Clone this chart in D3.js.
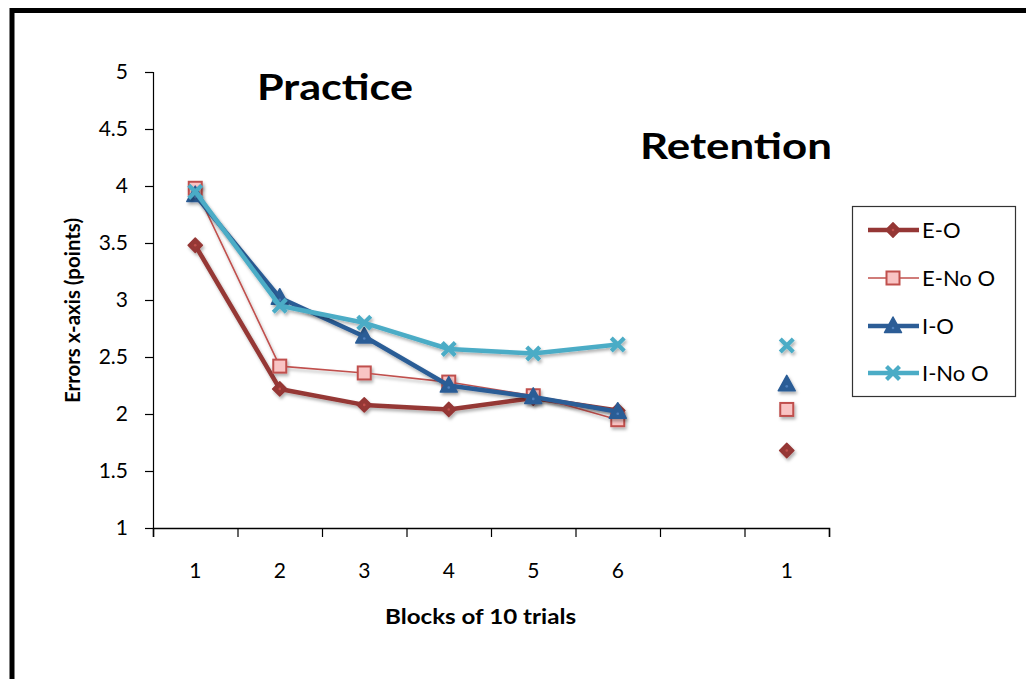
<!DOCTYPE html>
<html>
<head>
<meta charset="utf-8">
<script src="https://cdn.jsdelivr.net/npm/d3@7"></script>
<style>
  html, body { margin: 0; padding: 0; background: #fff; }
  svg { display: block; }
  text { font-family: Lato, "Open Sans", sans-serif; fill: #000; }
</style>
</head>
<body>
<script>
// ---- data ----
const categories = ["1", "2", "3", "4", "5", "6", "", "1"];
const eO   = [3.48, 2.22, 2.08, 2.04, 2.14, 2.03, null, 1.68];
const eNoO = [3.98, 2.42, 2.36, 2.28, 2.16, 1.95, null, 2.04];
const iO   = [3.92, 3.02, 2.68, 2.25, 2.15, 2.02, null, 2.26];
const iNoO = [3.95, 2.95, 2.80, 2.57, 2.53, 2.61, null, 2.60];
const seriesNames = ["E-O", "E-No O", "I-O", "I-No O"];
const yTicks = [1, 1.5, 2, 2.5, 3, 3.5, 4, 4.5, 5];

(function () {
const W = 1026, H = 679;
const svg = d3.select("body").append("svg").attr("width", W).attr("height", H);

const defs = svg.append("defs");
const f = defs.append("filter").attr("id", "sh").attr("x", "-30%").attr("y", "-30%").attr("width", "160%").attr("height", "160%");
f.append("feDropShadow").attr("dx", 1.5).attr("dy", 2.5).attr("stdDeviation", 1.5)
  .attr("flood-color", "#000").attr("flood-opacity", 0.3);

// frame
svg.append("rect").attr("x", 12).attr("y", 10.5).attr("width", W + 20).attr("height", H + 20)
  .attr("fill", "none").attr("stroke", "#000").attr("stroke-width", 5);

const pLeft = 153, pRight = 829, pTop = 72, pBottom = 528;
const x = d3.scaleBand().domain(d3.range(categories.length)).range([pLeft, pRight]);
const xEdge = d3.scaleLinear().domain([0, categories.length]).range([pLeft, pRight]);
const y = d3.scaleLinear().domain([1, 5]).range([pBottom, pTop]);

// y axis
const yAxis = svg.append("g").attr("transform", `translate(${pLeft},0)`)
  .call(d3.axisLeft(y).tickValues(yTicks).tickSize(8).tickPadding(17).tickFormat(d => String(d)));
yAxis.select(".domain").attr("stroke", "#000").attr("stroke-width", 1.2);
yAxis.selectAll(".tick line").attr("stroke", "#000").attr("stroke-width", 1.2);
yAxis.selectAll("text").style("font-size", "21px").attr("fill", "#000");

// x axis tick marks at band edges
const xTickAxis = svg.append("g").attr("transform", `translate(0,${pBottom})`)
  .call(d3.axisBottom(xEdge).tickValues(d3.range(categories.length + 1)).tickSize(9).tickFormat(""));
xTickAxis.select(".domain").attr("stroke", "#000").attr("stroke-width", 1.5);
xTickAxis.selectAll(".tick line").attr("stroke", "#000").attr("stroke-width", 1.2);

// x labels
const xLab = svg.append("g").attr("transform", `translate(0,${pBottom})`)
  .call(d3.axisBottom(x).tickSize(0).tickPadding(35).tickFormat(i => categories[i]));
xLab.select(".domain").remove();
xLab.selectAll("text").style("font-size", "21px").attr("fill", "#000");

// axis titles
svg.append("text").attr("x", 385).attr("y", 624).attr("textLength", 191).attr("lengthAdjust", "spacingAndGlyphs")
  .style("font-size", "21px").style("font-weight", "bold").text("Blocks of 10 trials");
svg.append("text").attr("transform", "translate(80,403) rotate(-90)").attr("textLength", 185).attr("lengthAdjust", "spacingAndGlyphs")
  .style("font-size", "20px").style("font-weight", "bold").text("Errors x-axis (points)");

// section titles
svg.append("text").attr("x", 257).attr("y", 100).attr("textLength", 156).attr("lengthAdjust", "spacingAndGlyphs")
  .style("font-size", "37px").style("font-weight", "bold").text("Practice");
svg.append("text").attr("x", 640).attr("y", 159).attr("textLength", 192).attr("lengthAdjust", "spacingAndGlyphs")
  .style("font-size", "37px").style("font-weight", "bold").text("Retention");

// series styles
const styles = [
  { vals: eO,   color: "#953735", width: 4.5, marker: "diamond", fill: "#953735" },
  { vals: eNoO, color: "#C0504D", width: 1.6, marker: "square",  fill: "#F9C4C4" },
  { vals: iO,   color: "#2C5D96", width: 4.5, marker: "triangle", fill: "#2C5D96" },
  { vals: iNoO, color: "#4BACC6", width: 4.5, marker: "x",       fill: "#4BACC6" }
];

function drawMarker(g, type, s) {
  if (type === "diamond") {
    g.append("path").attr("d", d3.symbol(d3.symbolDiamond2, 130)())
      .attr("fill", s.fill).attr("stroke", s.color).attr("stroke-width", 1.5).attr("stroke-linejoin", "round");
    g.append("circle").attr("r", 1.3).attr("fill", "#c0504d");
  } else if (type === "square") {
    g.append("rect").attr("x", -6.5).attr("y", -6.5).attr("width", 13).attr("height", 13)
      .attr("fill", s.fill).attr("stroke", s.color).attr("stroke-width", 2);
  } else if (type === "triangle") {
    g.append("path").attr("d", "M0,-9 L8.5,6.5 L-8.5,6.5 Z")
      .attr("fill", s.fill).attr("stroke", s.color).attr("stroke-width", 1.5).attr("stroke-linejoin", "round");
    g.append("circle").attr("cy", 2).attr("r", 1.3).attr("fill", "#4f81bd");
  } else if (type === "x") {
    g.append("path").attr("d", "M-6.5,-6.5 L6.5,6.5 M6.5,-6.5 L-6.5,6.5")
      .attr("stroke", s.color).attr("stroke-width", 4.2).attr("fill", "none");
  }
}

const line = d3.line()
  .defined(d => d != null)
  .x((d, i) => x(i) + x.bandwidth() / 2)
  .y(d => y(d));

styles.forEach(s => {
  const g = svg.append("g").attr("filter", "url(#sh)");
  g.append("path").datum(s.vals).attr("d", line)
    .attr("fill", "none").attr("stroke", s.color).attr("stroke-width", s.width)
    .attr("stroke-linejoin", "round");
  s.vals.forEach((v, i) => {
    if (v == null) return;
    const m = g.append("g").attr("transform", `translate(${x(i) + x.bandwidth() / 2},${y(v)})`);
    drawMarker(m, s.marker, s);
  });
});

// legend
const lg = svg.append("g");
lg.append("rect").attr("x", 852.5).attr("y", 206.5).attr("width", 163).attr("height", 190)
  .attr("fill", "#fff").attr("stroke", "#333").attr("stroke-width", 1.2);
const legY = [230, 278, 326, 373];
styles.forEach((s, k) => {
  const g = lg.append("g").attr("transform", `translate(0,${legY[k]})`);
  g.append("line").attr("x1", 868).attr("x2", 919).attr("y1", 0).attr("y2", 0)
    .attr("stroke", s.color).attr("stroke-width", s.width);
  const m = g.append("g").attr("transform", "translate(893,0)");
  drawMarker(m, s.marker, s);
  g.append("text").attr("x", 922).attr("y", 0).attr("dy", "0.36em")
    .style("font-size", "22px").text(seriesNames[k]);
});
})();
</script>
</body>
</html>
